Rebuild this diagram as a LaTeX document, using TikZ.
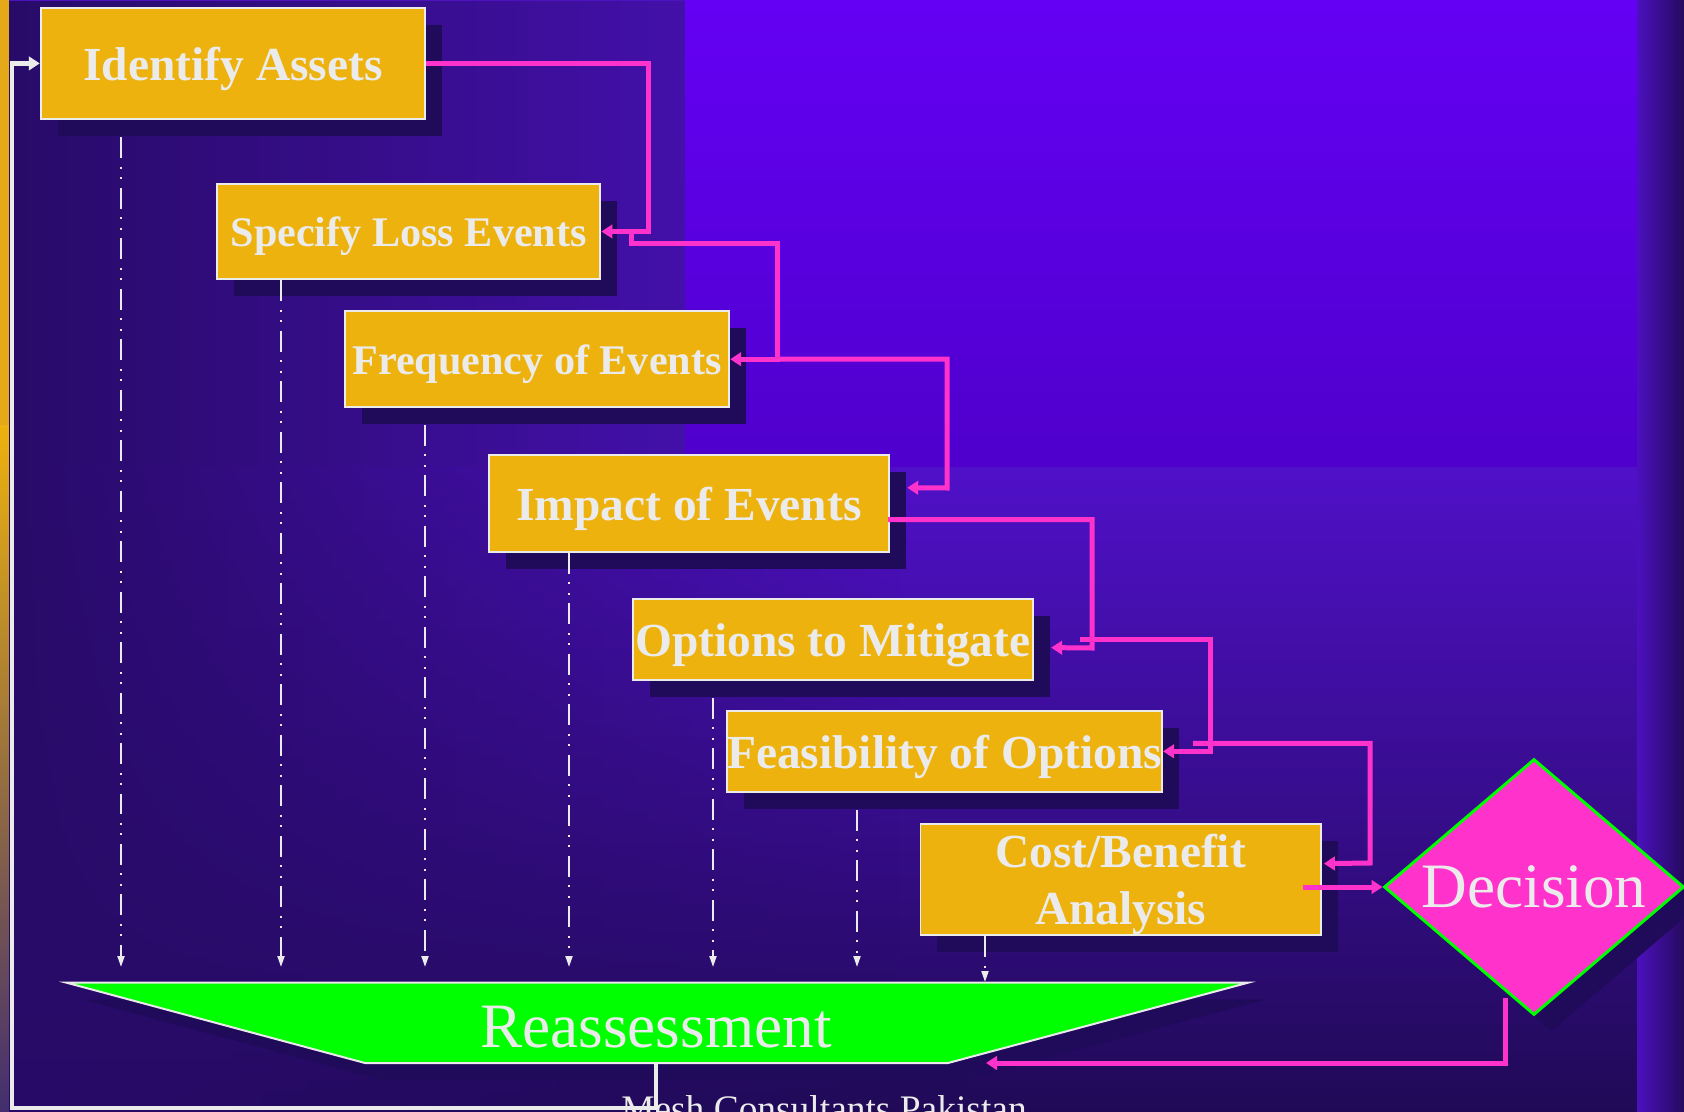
\documentclass[tikz,border=0pt]{standalone}
\usepackage{fontspec}
\setmainfont{Liberation Serif}
\usetikzlibrary{shapes.geometric,shadows,calc,arrows.meta,fadings}

\definecolor{boxgold}{HTML}{EDB20E}
\definecolor{boxshade}{HTML}{200A5A}
\definecolor{linkpink}{HTML}{FF33CC}
\definecolor{lime}{HTML}{00FF00}
\definecolor{paper}{HTML}{EBEBEB}
\definecolor{bgtop}{HTML}{4C12BE}
\definecolor{bgmid}{HTML}{360D8E}
\definecolor{bgbot}{HTML}{200A56}
\definecolor{bglow}{HTML}{5010C8}
\definecolor{bgdark}{HTML}{280B68}

\tikzfading[name=fadeleft, left color=transparent!0, right color=transparent!100]

\tikzset{
  stepbox/.style={draw=paper, line width=0.04cm, fill=boxgold, text=paper,
    inner sep=0pt, align=center, text depth=-0.09cm, font=\fontsize{27}{32.4}\selectfont\bfseries,
    drop shadow={shadow xshift=0.34cm, shadow yshift=-0.34cm, fill=boxshade, opacity=1}},
  pinklink/.style={draw=linkpink, line width=0.1cm, -{Triangle[length=0.22cm,width=0.27cm]}},
  dropline/.style={draw=paper, line width=0.04cm,
    dash pattern=on 0.42cm off 0.17cm on 0.04cm off 0.17cm on 0.04cm off 0.17cm,
    -{Triangle[length=0.22cm,width=0.14cm]}},
  backline/.style={draw=paper, line width=0.09cm, -{Triangle[length=0.22cm,width=0.27cm]}}
}

\begin{document}
\begin{tikzpicture}[x=0.02cm, y=-0.02cm]
    \useasboundingbox (0,0) rectangle (1684,1112);
    % Background
    \fill[boxgold!80!brown] (0,0) rectangle (9,425);
    \shade[top color=boxgold, bottom color=bgdark!70!gray] (0,425) rectangle (9,1112);
    \fill[bgtop] (9,0) rectangle (1684,466);
    \shade[top color=bglow, middle color=bgmid, bottom color=bgbot] (9,466) rectangle (1684,1112);
    \fill[bgdark, path fading=fadeleft] (9,0) rectangle (900,1112);
    \shade[top color={rgb,255:red,100;green,0;blue,244}, bottom color={rgb,255:red,79;green,0;blue,204}]
        (685,0) rectangle (1637,466);
    \shade[left color={rgb,255:red,76;green,16;blue,190}, right color={rgb,255:red,37;green,10;blue,94}]
        (1637,0) rectangle (1684,1112);

    % Reassessment
    \coordinate (rbr) at (948,1063);
    \coordinate (rbot) at (656,1063);
    \fill[boxshade, xshift=0.34cm, yshift=-0.34cm]
        (66.6,982.7) -- (1248,982.7) -- (948,1063) -- (365,1063) -- cycle;
    \draw[fill=lime, draw=paper, line width=0.04cm]
        (66.6,982.7) -- (1248,982.7) -- (rbr) -- (365,1063) -- cycle;
    \node[text=paper, font=\fontsize{36}{43}\selectfont, anchor=base] (reassess) at (656,1047) {Reassessment};

    % Steps
    \node[stepbox, minimum width=7.69cm, minimum height=2.23cm] (assets) at (233,63.4) {Identify Assets};
    \node[stepbox, minimum width=7.67cm, minimum height=1.91cm, font=\fontsize{24}{28.8}\selectfont\bfseries]
        (loss) at (408.7,231.5) {Specify Loss Events};
    \node[stepbox, minimum width=7.69cm, minimum height=1.91cm, font=\fontsize{24}{28.8}\selectfont\bfseries]
        (freq) at (537,359.2) {Frequency of Events};
    \node[stepbox, minimum width=8.01cm, minimum height=1.93cm] (impact) at (689,503.7) {Impact of Events};
    \node[stepbox, minimum width=8.01cm, minimum height=1.61cm] (options) at (832.9,639.6) {Options to Mitigate};
    \node[stepbox, minimum width=8.66cm, minimum height=1.61cm] (feas) at (944.6,751.3) {Feasibility of Options};
    \node[stepbox, minimum width=8.01cm, minimum height=2.23cm] (cost) at (1120.7,879.6) {Cost/Benefit\\Analysis};
    \node[diamond, draw=lime, line width=0.06cm, fill=linkpink, text=paper, inner sep=0pt, aspect=1.17,
        minimum width=6cm, minimum height=5.12cm, text depth=-0.16cm, font=\fontsize{36}{43}\selectfont,
        drop shadow={shadow xshift=0.34cm, shadow yshift=-0.34cm, fill=boxshade, opacity=1}]
        (decision) at (1534,887) {Decision};

    % Drops to reassessment
    \foreach \n/\x/\s/\e in {assets/121/17/967, loss/281/0/967, freq/425/17/967, impact/569/0/967,
        options/713/17/967, feas/857/17/967, cost/985/0/982}
    {
    \draw[dropline] ($(\x,0 |- \n.south)+(0,\s)$) -- (\x,\e);
    }

    % Links
    \draw[pinklink] (assets.east) -| (648,0 |- loss.east) -- (loss.east);
    \draw[pinklink] (631,0 |- loss.east) |- (777,243) |- (freq.east);
    \draw[pinklink] (777,0 |- freq.east) -| (947,488) -- ($(impact.east)+(17,-16)$);
    \draw[pinklink] ($(impact.east)+(-2,16)$) -| (1092,648) -- ($(options.east)+(17,8)$);
    \draw[pinklink] ($(options.east)+(46,0)$) -| (1210,0 |- feas.east) -- (feas.east);
    \draw[pinklink] ($(feas.east)+(30,-8)$) -| (1370,863) -- ($(cost.east)+(2,-16)$);
    \draw[pinklink] ($(cost.east |- decision.west)+(-19,0)$) -- (decision.west);
    \draw[pinklink] ($(decision.south)+(-29,-18)$) |- ($(rbr)+(38,0)$);

    % Back to the start
    \draw[backline] (rbot) -- (rbot |- 0,1108) -| (12,0 |- assets.west) -- (assets.west);

    % Footer
    \node[font=\fontsize{21.3}{25}\selectfont, text=paper, anchor=base] (footer) at (824,1121) {Mesh Consultants Pakistan};
\end{tikzpicture}
\end{document}
